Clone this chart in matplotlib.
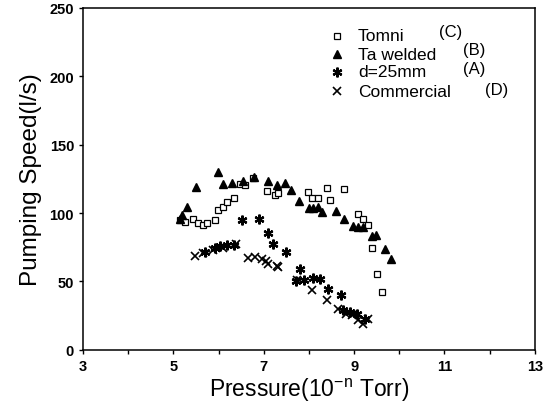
import matplotlib
matplotlib.use('Agg')
import matplotlib.pyplot as plt

plt.rcParams['font.family'] = ['Liberation Sans', 'DejaVu Sans']
plt.rcParams['mathtext.default'] = 'regular'

# Tomni (C)
tomni_x = [5.15, 5.26, 5.44, 5.55, 5.66, 5.74, 5.92, 5.99, 6.09, 6.18, 6.33, 6.47, 6.58, 6.77,
           7.06, 7.25, 7.32, 7.98, 8.06, 8.21, 8.39, 8.46, 8.77, 9.09, 9.20, 9.31, 9.39, 9.50, 9.61]
tomni_y = [94.6, 93.6, 96.0, 92.4, 91.1, 92.4, 94.8, 102.1, 104.6, 108.3, 110.7, 121.0, 120.5, 125.9,
           116.1, 113.1, 114.4, 115.6, 110.7, 111.2, 118.5, 109.5, 117.5, 99.0, 95.5, 91.6, 74.6, 55.7, 42.3]

# Ta welded (B)
ta_x = [5.15, 5.20, 5.29, 5.49, 5.98, 6.10, 6.30, 6.54, 6.78, 7.10, 7.29, 7.48, 7.60, 7.79,
        8.01, 8.10, 8.21, 8.28, 8.59, 8.78, 8.98, 9.09, 9.19, 9.39, 9.48, 9.68, 9.81]
ta_y = [95.3, 98.5, 104.1, 119.3, 129.8, 121.2, 122.2, 123.2, 126.6, 123.4, 120.5, 121.9, 116.6, 108.7,
        103.9, 103.4, 104.6, 101.0, 101.4, 95.3, 90.7, 90.0, 90.0, 83.4, 83.9, 74.0, 66.2]

# d=25mm (A)
d25_x = [5.70, 5.92, 6.03, 6.18, 6.33, 6.51, 6.90, 7.10, 7.20, 7.49, 7.80, 7.71, 7.89, 8.09,
         8.24, 8.43, 8.72, 8.76, 8.91, 9.06, 9.24]
d25_y = [71.6, 74.6, 76.2, 76.5, 76.5, 94.8, 96.0, 85.6, 77.7, 71.6, 58.9, 50.6, 51.3, 52.8,
         52.1, 44.7, 39.8, 28.8, 27.6, 26.4, 22.7]

# Commercial (D)
com_x = [5.48, 5.65, 5.88, 6.10, 6.38, 6.66, 6.81, 6.95, 7.05, 7.10, 7.29, 7.32, 7.73, 8.06,
         8.39, 8.65, 8.83, 8.95, 9.09, 9.20, 9.31]
com_y = [68.7, 71.1, 73.3, 74.8, 77.0, 67.2, 68.0, 66.7, 65.2, 63.0, 61.4, 60.6, 50.8, 43.5,
         36.1, 30.1, 26.4, 25.7, 21.5, 19.1, 22.7]

names = ['Tomni', 'Ta welded', 'd=25mm', 'Commercial']
letters = ['(C)', '(B)', '(A)', '(D)']

fig = plt.figure(figsize=(5.43, 4.06), dpi=100)
ax = fig.add_axes([0.153, 0.136, 0.832, 0.842])

star = (6, 2, 0)
sq = dict(marker='s', ms=5, mfc='white', mec='black', mew=0.9, ls='none')
tri = dict(marker='^', ms=6, color='black', ls='none')
ast = dict(marker=star, ms=7, mew=1.6, color='black', ls='none')
crs = dict(marker='x', ms=6, mew=1.2, color='black', ls='none')

ax.plot(tomni_x, tomni_y, **sq)
ax.plot(ta_x, ta_y, **tri)
ax.plot(d25_x, d25_y, **ast)
ax.plot(com_x, com_y, **crs)

ax.set_xlim(3, 13)
ax.set_ylim(0, 250)
ax.set_xticks(range(3, 14))
ax.set_xticklabels([str(v) if v % 2 == 1 else '' for v in range(3, 14)])
ax.set_yticks([0, 50, 100, 150, 200, 250])
ax.tick_params(axis='both', direction='out', length=3, width=1, labelsize=10.5)
for t in ax.get_xticklabels() + ax.get_yticklabels():
    t.set_fontweight('bold')
for s in ax.spines.values():
    s.set_linewidth(1.1)

ax.set_xlabel('Pressure(10$^{-n}$ Torr)', fontsize=16.5, labelpad=2)
ax.set_ylabel('Pumping Speed(l/s)', fontsize=17.5, labelpad=5)

# legend, drawn by hand so the letters can sit where they do in the original
rows = [0.918, 0.865, 0.813, 0.757]
let_pos = [(0.814, 0.932), (0.865, 0.878), (0.865, 0.822), (0.916, 0.762)]
for st, name, y in zip([sq, tri, ast, crs], names, rows):
    ax.plot([0.562], [y], transform=ax.transAxes, clip_on=False, **st)
    ax.text(0.608, y, name, transform=ax.transAxes, fontsize=12.5, va='center')
for txt, (x, y) in zip(letters, let_pos):
    ax.text(x, y, txt, transform=ax.transAxes, fontsize=12, ha='center', va='center')

plt.savefig('out.png', dpi=100)
